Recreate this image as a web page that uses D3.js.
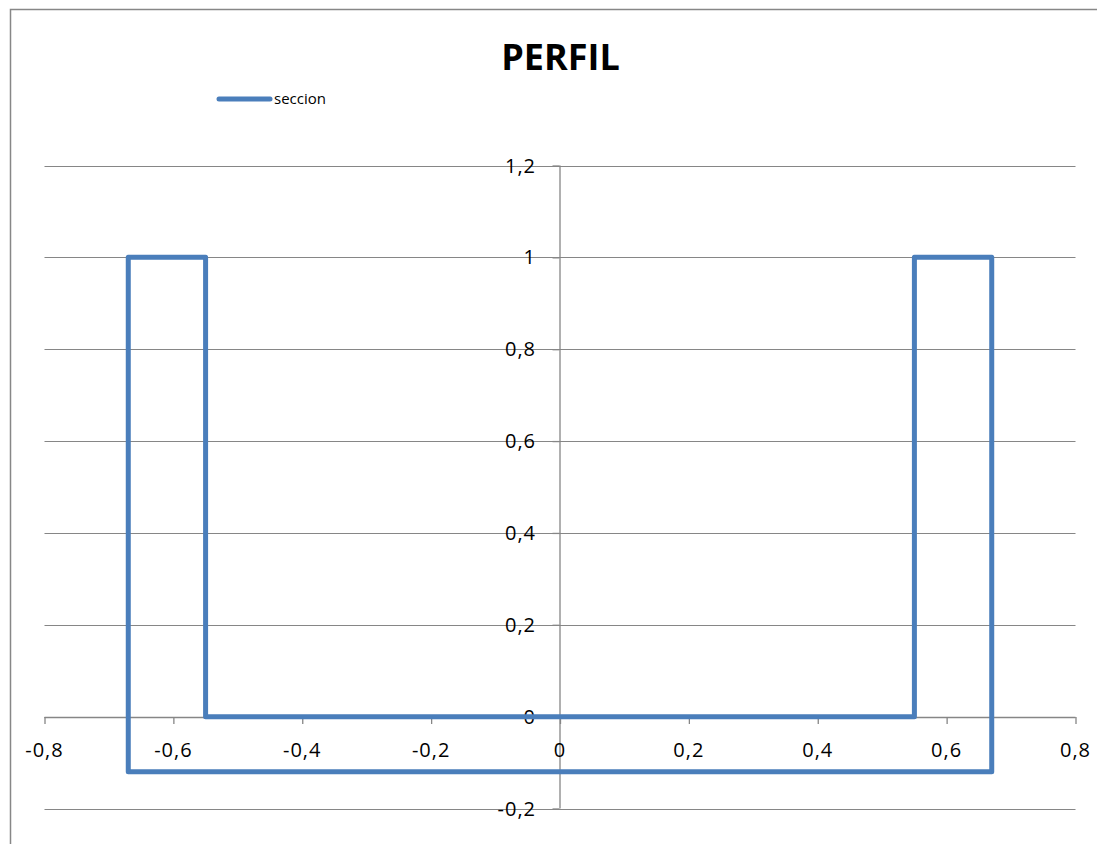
<!DOCTYPE html>
<html><head><meta charset="utf-8">
<script src="https://cdn.jsdelivr.net/npm/d3@7"></script>
<style>body{margin:0;background:#fff;} svg{display:block;}</style>
</head><body>
<svg id="c" width="1097" height="844"></svg>
<script>
const xs = [-0.67, -0.55, -0.55, 0.55, 0.55, 0.67, 0.67, -0.67, -0.67];
const ys = [1, 1, 0, 0, 1, 1, -0.12, -0.12, 1];
const xTicks = [-0.8, -0.6, -0.4, -0.2, 0, 0.2, 0.4, 0.6, 0.8];
const yTicks = [-0.2, 0, 0.2, 0.4, 0.6, 0.8, 1, 1.2];
const seriesName = "seccion";
const title = "PERFIL";

const svg = d3.select("#c");
const font = "'Open Sans', 'Noto Sans', sans-serif";
const fmt = v => (Math.abs(v) < 1e-9 ? "0" : String(+v.toFixed(1)).replace(".", ","));

// outer border (left + top)
svg.append("path").attr("d", "M10.5,844 V9.5 H1097").attr("fill", "none").attr("stroke", "#878787").attr("stroke-width", 1.5);

const x = d3.scaleLinear().domain([-0.8, 0.8]).range([44.5, 1075.5]);
const y = d3.scaleLinear().domain([-0.2, 1.2]).range([808.5, 165.5]);

// horizontal gridlines
svg.append("g").selectAll("line").data(yTicks).join("line")
  .attr("x1", x(-0.8)).attr("x2", x(0.8))
  .attr("y1", d => Math.round(y(d)) + 0.5).attr("y2", d => Math.round(y(d)) + 0.5)
  .attr("stroke", "#868686").attr("stroke-width", 1.2);

// x axis at y=0, ticks downward
const xAxis = d3.axisBottom(x).tickValues(xTicks).tickSize(7).tickFormat("");
const gx = svg.append("g").attr("transform", `translate(0,${Math.round(y(0))})`).call(xAxis);
gx.selectAll("path,line").attr("stroke", "#868686").attr("stroke-width", 1.3);
gx.select(".domain").attr("d", `M${x(-0.8)},0.5H${x(0.8)}`);

// y axis at x=0
const yAxis = d3.axisLeft(y).tickValues(yTicks).tickSize(7).tickFormat("");
const gy = svg.append("g").attr("transform", `translate(${Math.round(x(0)) - 0.5},0)`).call(yAxis);
gy.selectAll("path,line").attr("stroke", "#868686").attr("stroke-width", 1.3);
gy.select(".domain").attr("d", `M0.5,${y(1.2)}V${y(-0.2)}`);

// x labels
svg.append("g").selectAll("text").data(xTicks).join("text")
  .attr("x", d => x(d)).attr("y", 757)
  .attr("text-anchor", "middle").attr("font-family", font).attr("font-size", 20)
  .attr("letter-spacing", 1)
  .attr("fill", "#000").text(fmt);

// y labels
svg.append("g").selectAll("text").data(yTicks).join("text")
  .attr("x", 536).attr("y", d => y(d) + 7)
  .attr("text-anchor", "end").attr("font-family", font).attr("font-size", 20)
  .attr("letter-spacing", 1)
  .attr("fill", "#000").text(fmt);

// series line
const line = d3.line().x(d => x(d[0])).y(d => y(d[1]));
svg.append("path").datum(xs.map((v, i) => [v, ys[i]]))
  .attr("d", line).attr("fill", "none").attr("stroke", "#4a7ebb")
  .attr("stroke-width", 5).attr("stroke-linejoin", "round").attr("stroke-linecap", "round");

// title
svg.append("text").attr("x", 560.5).attr("y", 70).attr("text-anchor", "middle")
  .attr("font-family", font).attr("font-weight", "bold").attr("font-size", 36)
  .attr("fill", "#000").text(title);

// legend
svg.append("line").attr("x1", 219).attr("x2", 270).attr("y1", 99).attr("y2", 99)
  .attr("stroke", "#4a7ebb").attr("stroke-width", 5).attr("stroke-linecap", "round");
svg.append("text").attr("x", 274).attr("y", 104).attr("font-family", font).attr("font-size", 15)
  .attr("fill", "#000").text(seriesName);
</script>
</body></html>
